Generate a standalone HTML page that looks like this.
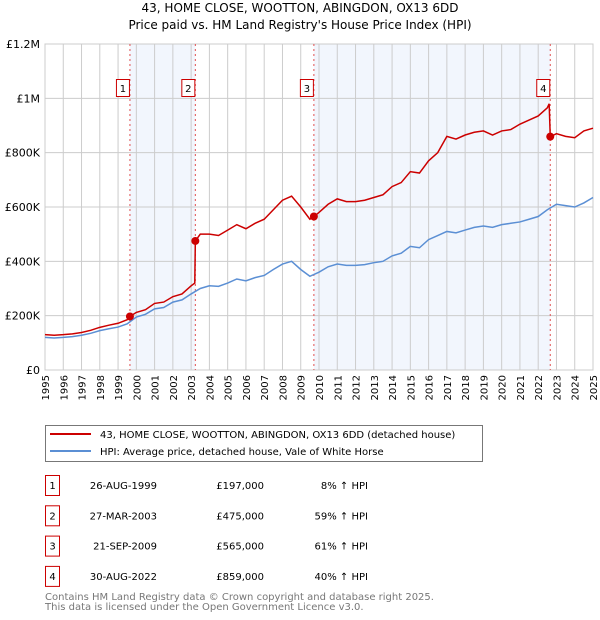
<!DOCTYPE html>
<html><head><meta charset="utf-8"><style>
body{margin:0;width:600px;height:620px;background:#fff;font-family:"DejaVu Sans","Liberation Sans",sans-serif;overflow:hidden}
svg{position:absolute;left:0;top:0}
</style></head><body>
<svg id="chart" width="600" height="620" xmlns="http://www.w3.org/2000/svg" font-family="DejaVu Sans, Liberation Sans, sans-serif">
<text x="300" y="12" text-anchor="middle" font-size="12">43, HOME CLOSE, WOOTTON, ABINGDON, OX13 6DD</text>
<text x="300" y="29" text-anchor="middle" font-size="12">Price paid vs. HM Land Registry's House Price Index (HPI)</text>
<g id="plot"></g>
<g>
<rect x="45.5" y="425.5" width="437" height="36" fill="#fff" stroke="#777"/>
<line x1="50" y1="434" x2="91" y2="434" stroke="#cc0000" stroke-width="2"/>
<text x="100" y="438" font-size="10">43, HOME CLOSE, WOOTTON, ABINGDON, OX13 6DD (detached house)</text>
<line x1="50" y1="451" x2="91" y2="451" stroke="#5b8fd4" stroke-width="2"/>
<text x="100" y="455" font-size="10">HPI: Average price, detached house, Vale of White Horse</text>
</g>
<g id="table" font-size="10"></g>
<text x="45" y="600" font-size="10" fill="#777">Contains HM Land Registry data © Crown copyright and database right 2025.</text>
<text x="45" y="610" font-size="10" fill="#777">This data is licensed under the Open Government Licence v3.0.</text>
</svg>
<script>
const yTicks=[0,200000,400000,600000,800000,1000000,1200000];
const yTickLabels=["£0","£200K","£400K","£600K","£800K","£1M","£1.2M"];
const years=[1995,1996,1997,1998,1999,2000,2001,2002,2003,2004,2005,2006,2007,2008,2009,2010,2011,2012,2013,2014,2015,2016,2017,2018,2019,2020,2021,2022,2023,2024,2025];
const hpiX=[1995,1995.5,1996,1996.5,1997,1997.5,1998,1998.5,1999,1999.5,2000,2000.5,2001,2001.5,2002,2002.5,2003,2003.5,2004,2004.5,2005,2005.5,2006,2006.5,2007,2007.5,2008,2008.5,2009,2009.5,2010,2010.5,2011,2011.5,2012,2012.5,2013,2013.5,2014,2014.5,2015,2015.5,2016,2016.5,2017,2017.5,2018,2018.5,2019,2019.5,2020,2020.5,2021,2021.5,2022,2022.5,2023,2023.5,2024,2024.5,2025];
const hpiY=[120,118,120,123,128,135,145,152,158,170,195,205,225,230,250,258,280,300,310,308,320,335,328,340,348,370,390,400,370,345,360,380,390,385,385,388,395,400,420,430,455,450,480,495,510,505,515,525,530,525,535,540,545,555,565,590,610,605,600,615,635];
const redX=[1995,1995.5,1996,1996.5,1997,1997.5,1998,1998.5,1999,1999.5,1999.65,2000,2000.5,2001,2001.5,2002,2002.5,2003,2003.2,2003.23,2003.5,2004,2004.5,2005,2005.5,2006,2006.5,2007,2007.5,2008,2008.5,2009,2009.5,2009.72,2010,2010.5,2011,2011.5,2012,2012.5,2013,2013.5,2014,2014.5,2015,2015.5,2016,2016.5,2017,2017.5,2018,2018.5,2019,2019.5,2020,2020.5,2021,2021.5,2022,2022.5,2022.6,2022.66,2023,2023.5,2024,2024.5,2025];
const redY=[130,128,130,133,138,146,157,165,172,185,197,212,222,245,250,270,280,310,320,475,500,500,495,515,535,520,540,555,590,625,640,600,555,565,580,610,630,620,620,625,635,645,675,690,730,725,770,800,860,850,865,875,880,865,880,885,905,920,935,965,980,859,870,860,855,880,890];
const saleNums=["1","2","3","4"];
const saleX=[1999.65,2003.23,2009.72,2022.66];
const saleY=[197,475,565,859];
const saleDates=["26-AUG-1999","27-MAR-2003","21-SEP-2009","30-AUG-2022"];
const salePrices=["£197,000","£475,000","£565,000","£859,000"];
const saleHpi=["8% ↑ HPI","59% ↑ HPI","61% ↑ HPI","40% ↑ HPI"];
const X0=45,X1=593,Y0=370,Y1=44;
const xs=v=>X0+(v-1995)/30*(X1-X0);
const ys=v=>Y0-v/1200000*(Y0-Y1);
const NS="http://www.w3.org/2000/svg";
const plot=document.getElementById('plot');
function mk(tag,at,parent){const e=document.createElementNS(NS,tag);for(const k in at)e.setAttribute(k,at[k]);(parent||plot).appendChild(e);return e;}
// shading
for(const [a,b] of [[0,1],[2,3]]){
 const r=mk('rect',{x:xs(saleX[a]),y:Y1,width:xs(saleX[b])-xs(saleX[a]),height:Y0-Y1,fill:'#f2f6fd'});
 
 
}
years.forEach(y=>{
 const l=mk('line',{x1:xs(y),x2:xs(y),y1:Y1,y2:Y0,stroke:'#ccc','stroke-width':1});
 
 
 const t=mk('text',{x:0,y:0,'font-size':10,'text-anchor':'end',transform:`translate(${xs(y)+4},${Y0+5}) rotate(-90)`});
 t.textContent=y;
 
 
});
yTicks.forEach((v,i)=>{
 const l=mk('line',{x1:X0,x2:X1,y1:ys(v),y2:ys(v),stroke:'#ccc','stroke-width':1});
 
 
 const t=mk('text',{x:X0-5,y:ys(v)+4,'font-size':11,'text-anchor':'end'});
 t.textContent=yTickLabels[i];
 
 
});
const frame=mk('rect',{x:X0,y:Y1,width:X1-X0,height:Y0-Y1,fill:'none',stroke:'#ccc'});


saleX.forEach((v,i)=>{
 const l=mk('line',{x1:xs(v),x2:xs(v),y1:Y1,y2:Y0,stroke:'#e05050','stroke-dasharray':'2,3','stroke-width':1});
 
 
});
const hp=mk('polyline',{points:hpiX.map((x,i)=>xs(x)+','+ys(hpiY[i]*1000)).join(' '),fill:'none',stroke:'#5b8fd4','stroke-width':1.5});


const rp=mk('polyline',{points:redX.map((x,i)=>xs(x)+','+ys(redY[i]*1000)).join(' '),fill:'none',stroke:'#cc0000','stroke-width':1.5});


saleX.forEach((v,i)=>{
 const c=mk('circle',{cx:xs(v),cy:ys(saleY[i]*1000),r:4,fill:'#cc0000'});
 
 
 const bx=xs(v)-10;
 const b=mk('rect',{x:bx-3.5,y:79.5,width:13,height:17,fill:'#fff',stroke:'#cc0000'});
 
 
 const t=mk('text',{x:bx+3,y:92,'font-size':10,'text-anchor':'middle'});
 t.textContent=saleNums[i];
 
 
});
const tb=document.getElementById('table');
saleNums.forEach((n,i)=>{
 const y=484+i*30.3;
 const b=mk('rect',{x:45.5,y:y-8.5,width:14,height:20,fill:'#fff',stroke:'#cc0000'},tb);
 
 
 const t=mk('text',{x:52.5,y:y+5,'text-anchor':'middle'},tb);t.textContent=n;
 
 
 const d=mk('text',{x:157,y:y+5,'text-anchor':'end'},tb);d.textContent=saleDates[i];
 
 
 const p=mk('text',{x:264,y:y+5,'text-anchor':'end'},tb);p.textContent=salePrices[i];
 
 
 const h=mk('text',{x:368,y:y+5,'text-anchor':'end'},tb);h.textContent=saleHpi[i];
 
 
});
</script>
</body></html>
